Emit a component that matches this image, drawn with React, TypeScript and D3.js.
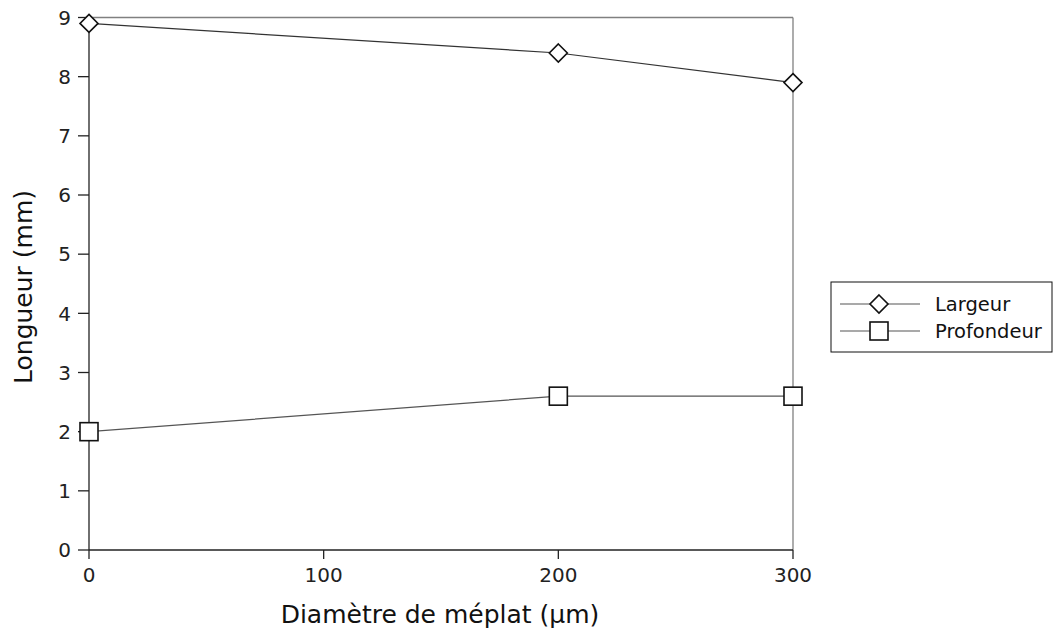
import React from "react";
import * as d3 from "d3";

const diameters = [0, 200, 300];
const largeur = [8.9, 8.4, 7.9];
const profondeur = [2.0, 2.6, 2.6];
const xTicks = [0, 100, 200, 300];
const yTicks = [0, 1, 2, 3, 4, 5, 6, 7, 8, 9];
const seriesNames = ["Largeur", "Profondeur"];

const W = 1057, H = 633;
const FONT = "DejaVu Sans, sans-serif";

export default function App() {
  const x = d3.scaleLinear().domain([0, 300]).range([89, 793]);
  const y = d3.scaleLinear().domain([0, 9]).range([550, 17.5]);
  const line = d3.line<[number, number]>().x(d => x(d[0])).y(d => y(d[1]));
  const lData = diameters.map((d, i) => [d, largeur[i]] as [number, number]);
  const pData = diameters.map((d, i) => [d, profondeur[i]] as [number, number]);
  const diamond = (cx: number, cy: number, r = 9) =>
    `M${cx},${cy - r}L${cx + r},${cy}L${cx},${cy + r}L${cx - r},${cy}Z`;

  return (
    <svg width={W} height={H} style={{ position: "absolute", left: 0, top: 0, background: "#fff" }} fontFamily={FONT}>
      <rect x={0} y={0} width={W} height={H} fill="#fff" />
      {/* frame top/right */}
      <line x1={x(0)} x2={x(300)} y1={y(9)} y2={y(9)} stroke="#808080" strokeWidth={1.3} />
      <line x1={x(300)} x2={x(300)} y1={y(9)} y2={y(0)} stroke="#808080" strokeWidth={1.3} />
      {/* axes */}
      <line x1={x(0)} x2={x(300)} y1={y(0)} y2={y(0)} stroke="#222" strokeWidth={1.3} />
      <line x1={x(0)} x2={x(0)} y1={y(9)} y2={y(0)} stroke="#222" strokeWidth={1.3} />
      {yTicks.map(t => (
        <g key={"y" + t}>
          <line x1={x(0) - 11} x2={x(0)} y1={y(t)} y2={y(t)} stroke="#222" strokeWidth={1.3} />
          <text x={x(0) - 18} y={y(t)} dy="0.36em" textAnchor="end" fontSize={20} fill="#222">{t}</text>
        </g>
      ))}
      {xTicks.map(t => (
        <g key={"x" + t}>
          <line x1={x(t)} x2={x(t)} y1={y(0)} y2={y(0) + 9} stroke="#222" strokeWidth={1.3} />
          <text x={x(t)} y={582} textAnchor="middle" fontSize={20} fill="#222">{t}</text>
        </g>
      ))}
      <text x={440} y={623} textAnchor="middle" fontSize={25} fill="#111">Diamètre de méplat (µm)</text>
      <text transform={`translate(32,287) rotate(-90)`} textAnchor="middle" fontSize={25} fill="#111">Longueur (mm)</text>
      {/* series */}
      <path d={line(lData) || ""} fill="none" stroke="#333" strokeWidth={1.2} />
      <path d={line(pData) || ""} fill="none" stroke="#555" strokeWidth={1.2} />
      {lData.map((d, i) => (
        <path key={"l" + i} d={diamond(x(d[0]), y(d[1]))} fill="#fff" stroke="#111" strokeWidth={1.6} />
      ))}
      {pData.map((d, i) => (
        <rect key={"p" + i} x={x(d[0]) - 9} y={y(d[1]) - 9} width={18} height={18} fill="#fff" stroke="#111" strokeWidth={1.6} />
      ))}
      {/* legend */}
      <rect x={831} y={282} width={221} height={70} fill="#fff" stroke="#111" strokeWidth={1} />
      {seriesNames.map((name, i) => {
        const cy = 304 + i * 27;
        return (
          <g key={name}>
            <line x1={840} x2={920} y1={cy} y2={cy} stroke="#555" strokeWidth={1.2} />
            {i === 0 ? (
              <path d={diamond(879, cy)} fill="#fff" stroke="#111" strokeWidth={1.6} />
            ) : (
              <rect x={870} y={cy - 9} width={18} height={18} fill="#fff" stroke="#111" strokeWidth={1.6} />
            )}
            <text x={935} y={cy} dy="0.36em" fontSize={19.5} fill="#111">{name}</text>
          </g>
        );
      })}
    </svg>
  );
}
